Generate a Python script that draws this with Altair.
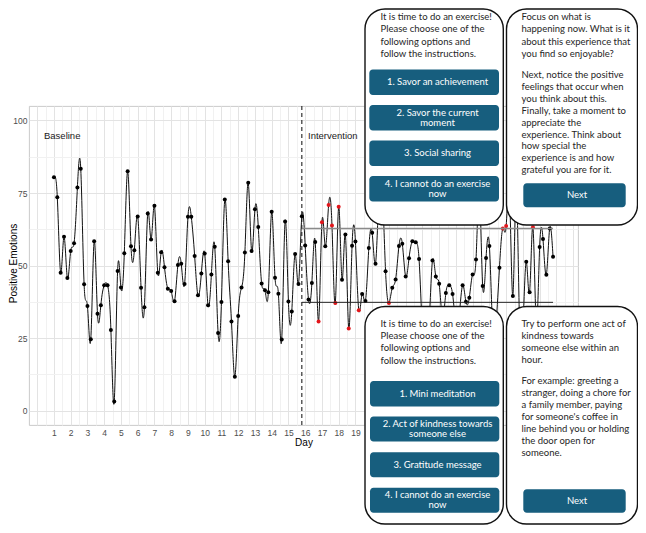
import altair as alt
import pandas as pd

# ---------------- data ----------------
values = [
    80.4, 73.5, 47.5, 59.9, 45.7, 55.0, 57.7, 76.9, 83.4, 43.5,
    36.0, 24.6, 58.4, 33.4, 36.3, 43.2, 43.2, 27.8, 3.1, 48.1,
    42.4, 54.2, 82.5, 56.6, 55.3, 66.9, 42.3, 35.6, 67.9, 59.0,
    70.6, 47.5, 54.6, 49.4, 42.0, 41.2, 37.7, 50.2, 50.6, 43.6,
    66.8, 66.8, 53.3, 39.7, 47.2, 54.1, 36.3, 46.9, 56.5, 26.7,
    37.4, 72.8, 51.5, 30.7, 11.6, 32.6, 42.4, 54.5, 78.5, 55.0,
    69.4, 63.3, 43.8, 41.5, 40.8, 68.5, 45.8, 40.3, 24.5, 65.2,
    37.6, 34.1, 54.0, 43.6, 67.0, 56.9, 38.3, 44.0, 58.1, 30.7,
    64.9, 56.6, 70.9, 63.8, 37.1, 70.3, 45.1, 60.7, 28.3, 56.8,
    58.3, 34.6, 40.2, 37.8, 56.0, 61.3, 50.6, 74.0, 77.0, 48.0,
    37.1, 42.3, 45.2, 56.7, 57.5, 46.2, 52.5, 58.4, 58.0, 52.2,
    28.0, 22.0, 30.0, 51.7, 46.2, 43.7, 32.0, 40.5, 43.2, 40.2,
    30.0, 33.0, 43.2, 37.5, 38.9, 46.9, 52.1, 75.0, 42.9, 52.6,
    56.7, 28.0, 30.0, 49.2, 62.8, 63.6, 75.0, 39.5, 76.0, 30.0,
    28.0, 51.3, 40.8, 63.2, 30.0, 56.4, 59.1, 46.8, 62.8, 53.0,
]
red_points = [79, 80, 82, 83, 84, 85, 88, 91, 100, 134, 135, 143]
days = [round(1 + 0.2 * i, 1) for i in range(len(values))]

phase_change_day = 15.8
ref_end_day = 30.8
upper_ref = 62.8
lower_ref = 37.3

x_ticks = [k * 0.5 for k in range(0, 65)]
x_last_visible_label = 19
y_ticks = [k * 12.5 for k in range(0, 9)]

phase_labels = ["Baseline", "Intervention"]

panel1_text = ["It is time to do an exercise!", "Please choose one of the",
               "following options and", "follow the instructions."]
panel1_buttons = [["1. Savor an achievement"], ["2. Savor the current", "moment"],
                  ["3. Social sharing"], ["4. I cannot do an exercise", "now"]]
panel2_text = ["Focus on what is", "happening now. What is it",
               "about this experience that", "you find so enjoyable?"]
panel2_text_b = ["Next, notice the positive", "feelings that occur when",
                 "you think about this.", "Finally, take a moment to",
                 "appreciate the", "experience. Think about", "how special the",
                 "experience is and how", "grateful you are for it."]
panel3_text = panel1_text
panel3_buttons = [["1. Mini meditation"], ["2. Act of kindness towards", "someone else"],
                  ["3. Gratitude message"], ["4. I cannot do an exercise", "now"]]
panel4_text = ["Try to perform one act of", "kindness towards",
               "someone else within an", "hour."]
panel4_text_b = ["For example: greeting a", "stranger, doing a chore for",
                 "a family member, paying", "for someone's coffee in",
                 "line behind you or holding", "the door open for", "someone."]
next_label = "Next"

# ---------------- layout ----------------
X_DOMAIN = [-0.49, 32.29]
Y_DOMAIN = [-5, 105]
PLOT_W, PLOT_H = 549, 319
PAD = {"left": 21, "top": 98, "right": 60, "bottom": 100}


def dx(px):
    return X_DOMAIN[0] + (px - 8 - PAD["left"]) / PLOT_W * (X_DOMAIN[1] - X_DOMAIN[0])


def dy(py):
    return Y_DOMAIN[1] - (py - 8 - PAD["top"]) / PLOT_H * (Y_DOMAIN[1] - Y_DOMAIN[0])


BTN = "#175e7e"
INK = "#262626"

xs = alt.Scale(domain=X_DOMAIN, nice=False, zero=False)
ys = alt.Scale(domain=Y_DOMAIN, nice=False, zero=False)
x_axis = alt.Axis(values=x_ticks, title="Day",
                  labelExpr=("datum.value >= 1 && datum.value <= %d && datum.value %% 1 === 0"
                             " ? format(datum.value, 'd') : ''") % x_last_visible_label,
                  gridColor={"condition": {"test": "datum.value % 1 === 0", "value": "#e3e3e3"},
                             "value": "#f1f1f1"},
                  domain=False, ticks=False, labelOverlap=False, labelFlush=False,
                  labelFont="Liberation Sans", labelFontSize=8.5, labelColor="#4d4d4d",
                  labelPadding=3, titleFont="Liberation Sans", titleFontSize=10,
                  titleFontWeight="normal", titleColor="#000000", titlePadding=1, zindex=0)
y_axis = alt.Axis(values=y_ticks, title="Positive Emotions",
                  labelExpr="datum.value % 25 === 0 ? format(datum.value, 'd') : ''",
                  gridColor={"condition": {"test": "datum.value % 25 === 0", "value": "#e3e3e3"},
                             "value": "#f1f1f1"},
                  domain=False, ticks=False, labelOverlap=False, labelFlush=False,
                  labelFont="Liberation Sans", labelFontSize=8.5, labelColor="#4d4d4d",
                  labelPadding=2, titleFont="Liberation Sans", titleFontSize=10,
                  titleFontWeight="normal", titleColor="#000000",
                  titleX=-16, titleY=157, titleBaseline="middle", zindex=0)

X = alt.X("day:Q", scale=xs, axis=x_axis)
Y = alt.Y("val:Q", scale=ys, axis=y_axis)

series = pd.DataFrame({"day": days, "val": values,
                       "red": [1 if i in red_points else 0 for i in range(len(values))]})

line = alt.Chart(series).mark_line(interpolate="natural", color="#111111",
                                   strokeWidth=1).encode(x=X, y=Y)
points = alt.Chart(series).mark_circle(size=16, opacity=1).encode(
    x=X, y=Y,
    color=alt.condition("datum.red == 1", alt.value("#e3161b"), alt.value("#000000")))

vline = alt.Chart(pd.DataFrame({"day": [phase_change_day]})).mark_rule(
    color="#222222", strokeWidth=1.1, strokeDash=[4, 3]).encode(x=X)
hl_up = alt.Chart(pd.DataFrame({"day": [phase_change_day], "day2": [ref_end_day],
                                "val": [upper_ref]})).mark_rule(
    color="#8a8a8a", strokeWidth=1.5).encode(x=X, x2="day2", y=Y)
hl_lo = alt.Chart(pd.DataFrame({"day": [phase_change_day], "day2": [ref_end_day],
                                "val": [lower_ref]})).mark_rule(
    color="#222222", strokeWidth=1).encode(x=X, x2="day2", y=Y)

phase_df = pd.DataFrame({"day": [dx(44), dx(308)], "val": [dy(136), dy(136)],
                         "txt": phase_labels})
phase_txt = alt.Chart(phase_df).mark_text(align="left", baseline="middle",
                                          font="Liberation Sans", fontSize=9.5,
                                          color="#1a1a1a").encode(x=X, y=Y, text="txt:N")

# ---------- phone screens ----------
panels = [(365, 9, 503.3, 225), (506.5, 9, 637.5, 225),
          (365, 306.5, 503.3, 524), (506.5, 306.5, 637.5, 524)]
panel_df = pd.DataFrame({"day": [dx(p[0]) for p in panels], "day2": [dx(p[2]) for p in panels],
                         "val": [dy(p[1]) for p in panels], "val2": [dy(p[3]) for p in panels]})
panel_marks = alt.Chart(panel_df).mark_rect(fill="white", stroke="#111111", strokeWidth=1.4,
                                            cornerRadius=20).encode(
    x=X, x2="day2", y=Y, y2="val2")

btn_rows = []
btn_txt_rows = []


def add_buttons(x1, x2, tx, boxes, labels):
    for (y1, y2), lab in zip(boxes, labels):
        btn_rows.append({"day": dx(x1), "day2": dx(x2), "val": dy(y1), "val2": dy(y2)})
        mid = (y1 + y2) / 2
        n = len(lab)
        for k, s in enumerate(lab):
            ty = mid + (k - (n - 1) / 2) * 10.2
            btn_txt_rows.append({"day": dx(tx), "val": dy(ty), "txt": s})


add_buttons(369.3, 499, 437.5, [(69.5, 95), (105, 130.5), (140.5, 166), (176, 201.5)],
            panel1_buttons)
add_buttons(523.3, 625.7, 577, [(183.3, 207.3)], [[next_label]])
add_buttons(370, 499.3, 437.5, [(381, 406.5), (416.5, 441.5), (452.3, 477.3), (487.7, 512.7)],
            panel3_buttons)
add_buttons(523.3, 625.7, 577, [(489.3, 512.7)], [[next_label]])

btn_marks = alt.Chart(pd.DataFrame(btn_rows)).mark_rect(fill=BTN, cornerRadius=3.5).encode(
    x=X, x2="day2", y=Y, y2="val2")
btn_text = alt.Chart(pd.DataFrame(btn_txt_rows)).mark_text(
    align="center", baseline="middle", font="Lato", fontSize=9.5, color="white").encode(
    x=X, y=Y, text="txt:N")

body_rows = []


def add_lines(x, y0, step, lines):
    for k, s in enumerate(lines):
        body_rows.append({"day": dx(x), "val": dy(y0 + k * step), "txt": s})


add_lines(380.5, 17, 12.25, panel1_text)
add_lines(521.5, 17, 12.4, panel2_text)
add_lines(521.5, 75, 11.9, panel2_text_b)
add_lines(380.5, 324, 12.2, panel3_text)
add_lines(521.5, 324, 12.0, panel4_text)
add_lines(521.5, 380.7, 12.1, panel4_text_b)

body_text = alt.Chart(pd.DataFrame(body_rows)).mark_text(
    align="left", baseline="middle", font="Lato", fontSize=9.5, color=INK).encode(
    x=X, y=Y, text="txt:N")

chart = alt.layer(line, points, vline, hl_up, hl_lo, phase_txt,
                  panel_marks, btn_marks, btn_text, body_text).properties(
    width=PLOT_W, height=PLOT_H,
    autosize=alt.AutoSizeParams(type="none"),
    padding=PAD,
).configure_view(stroke="#c4c4c4", strokeWidth=0.9)

chart.save("out.html", embed_options={"renderer": "svg", "actions": False})
